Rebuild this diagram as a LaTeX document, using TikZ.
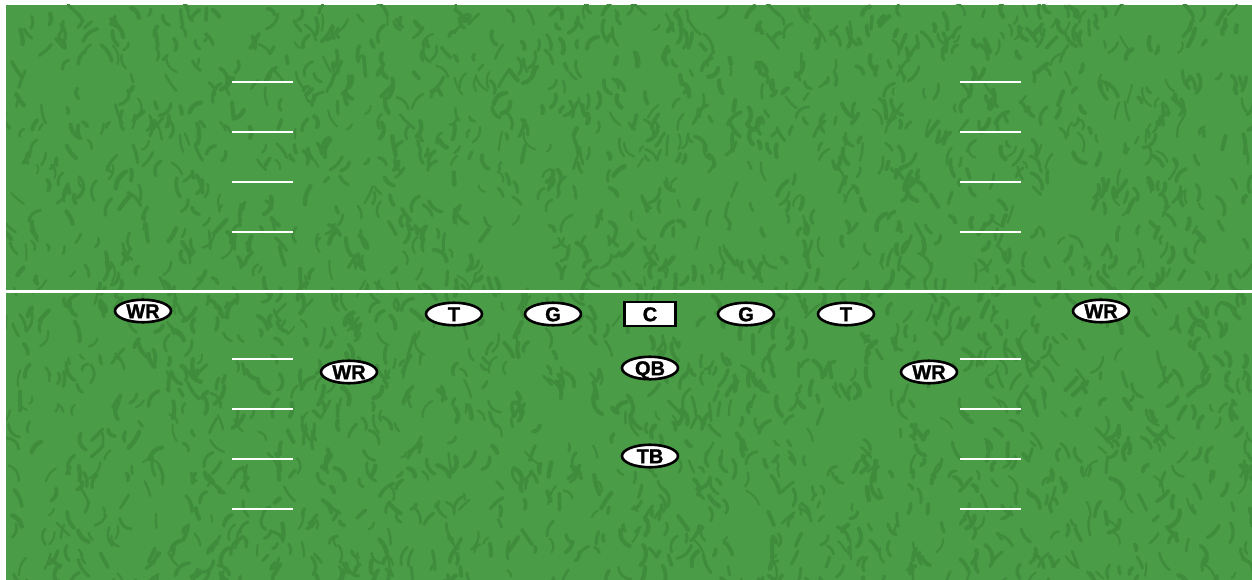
\documentclass[tikz,border=0pt]{standalone}
\usepackage{fontspec}
\usetikzlibrary{shapes.geometric}
\newfontfamily\playerfont{Liberation Sans}[UprightFont={* Bold}, UprightFeatures={FakeBold=1.4}]
\definecolor{turf}{RGB}{74,156,70}
\definecolor{turfdark}{RGB}{64,140,61}
\tikzset{
  player/.style={ellipse, draw=black, line width=2.6pt, fill=white,
    minimum width=56pt, minimum height=22.5pt, inner sep=0pt,
    font=\playerfont\fontsize{20}{20}\selectfont, text height=14.4pt, text depth=0pt},
  centerbox/.style={rectangle, draw=black, line width=2.4pt, fill=white,
    minimum width=51pt, minimum height=24pt, inner sep=0pt,
    font=\playerfont\fontsize{20}{20}\selectfont, text height=14.4pt, text depth=0pt},
  hashmark/.style={draw=white, line width=1.4pt},
  scrimmage/.style={draw=white, line width=3pt},
  grass/.style={draw=turfdark, line cap=round},
}
\begin{document}
\begin{tikzpicture}[x=1pt,y=-1pt]
\useasboundingbox (0,0) rectangle (1252,580);
\fill[white] (0,0) rectangle (1252,580);
\begin{scope}
\clip (6,5) rectangle (1252,580);
\fill[turf] (6,5) rectangle (1252,580);
\pgfmathsetseed{7}
\foreach \i in {1,...,2400}{
  \pgfmathsetmacro{\px}{rnd*1260}
  \pgfmathsetmacro{\py}{rnd*590}
  \pgfmathsetmacro{\pa}{40+rnd*100}
  \pgfmathsetmacro{\pl}{6+rnd*14}
  \pgfmathsetmacro{\pw}{2+rnd*2.5}
  \pgfmathsetmacro{\pb}{rnd*90-45}
  \draw[grass, line width=\pw pt] (\px,\py) to[bend left=\pb] ++(\pa:\pl);
}
\end{scope}
% line of scrimmage
\coordinate (losL) at (6,291);
\coordinate (losR) at (1252,291);
\draw[scrimmage] (losL) -- (losR);
% hash marks
\foreach \hy in {82,132,182,232,359,409,459,509}{
  \draw[hashmark] (232,\hy) -- (293,\hy);
  \draw[hashmark] (960,\hy) -- (1021,\hy);
}
% players
\node[player] (wr1) at (143,311) {WR};
\node[player] (lt) at (454,314) {T};
\node[player] (lg) at (553,314) {G};
\node[centerbox] (c) at (650,314) {C};
\node[player] (rg) at (746,314) {G};
\node[player] (rt) at (846,314) {T};
\node[player] (wr4) at (1101,311) {WR};
\node[player] (wr2) at (349,372) {WR};
\node[player] (qb) at (650,368) {QB};
\node[player] (wr3) at (929,372) {WR};
\node[player] (tb) at (650,456) {TB};
\end{tikzpicture}
\end{document}
